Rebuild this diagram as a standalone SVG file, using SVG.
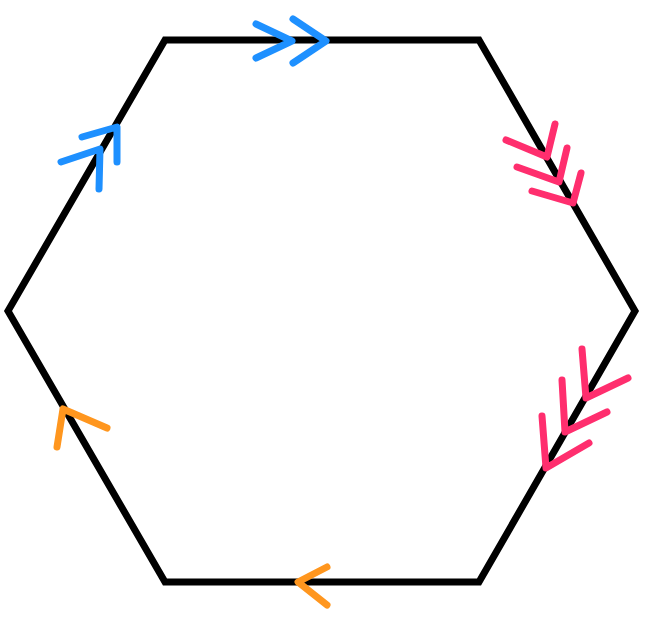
<svg xmlns="http://www.w3.org/2000/svg" width="648" height="624" viewBox="0 0 648 624">
<style>
.hex{fill:none;stroke:#000;stroke-width:7;stroke-linejoin:miter}
.m{fill:none;stroke-width:7;stroke-linecap:round;stroke-linejoin:round}
.b{stroke:#1E90FF}.p{stroke:#FF2E6E}.o{stroke:#FF961E}
</style>
<rect width="648" height="624" fill="#fff"/>
<g id="hexagon">
<polygon class="hex" points="165,40 479,40 635,311 479,582 165,582 8,311"/>
</g>
<g id="marks">
<polyline class="m b" points="256,24 292,41 256,58"/>
<polyline class="m b" points="293,19 326,41 293,63"/>
<polyline class="m b" points="61,162 100,149 99,189"/>
<polyline class="m b" points="82,137 117,127 117,162"/>
<polyline class="m p" points="506,140 547,157 555,124"/>
<polyline class="m p" points="517,167 559,182 567,148"/>
<polyline class="m p" points="532,191 573,203 581,173"/>
<polyline class="m p" points="582,349 586,398 628,378"/>
<polyline class="m p" points="562,380 565,432 607,412"/>
<polyline class="m p" points="542,416 546,468 589,443"/>
<polyline class="m o" points="107,428 63,409 57,447"/>
<polyline class="m o" points="327,567 298,582 327,605"/>
</g>
</svg>
